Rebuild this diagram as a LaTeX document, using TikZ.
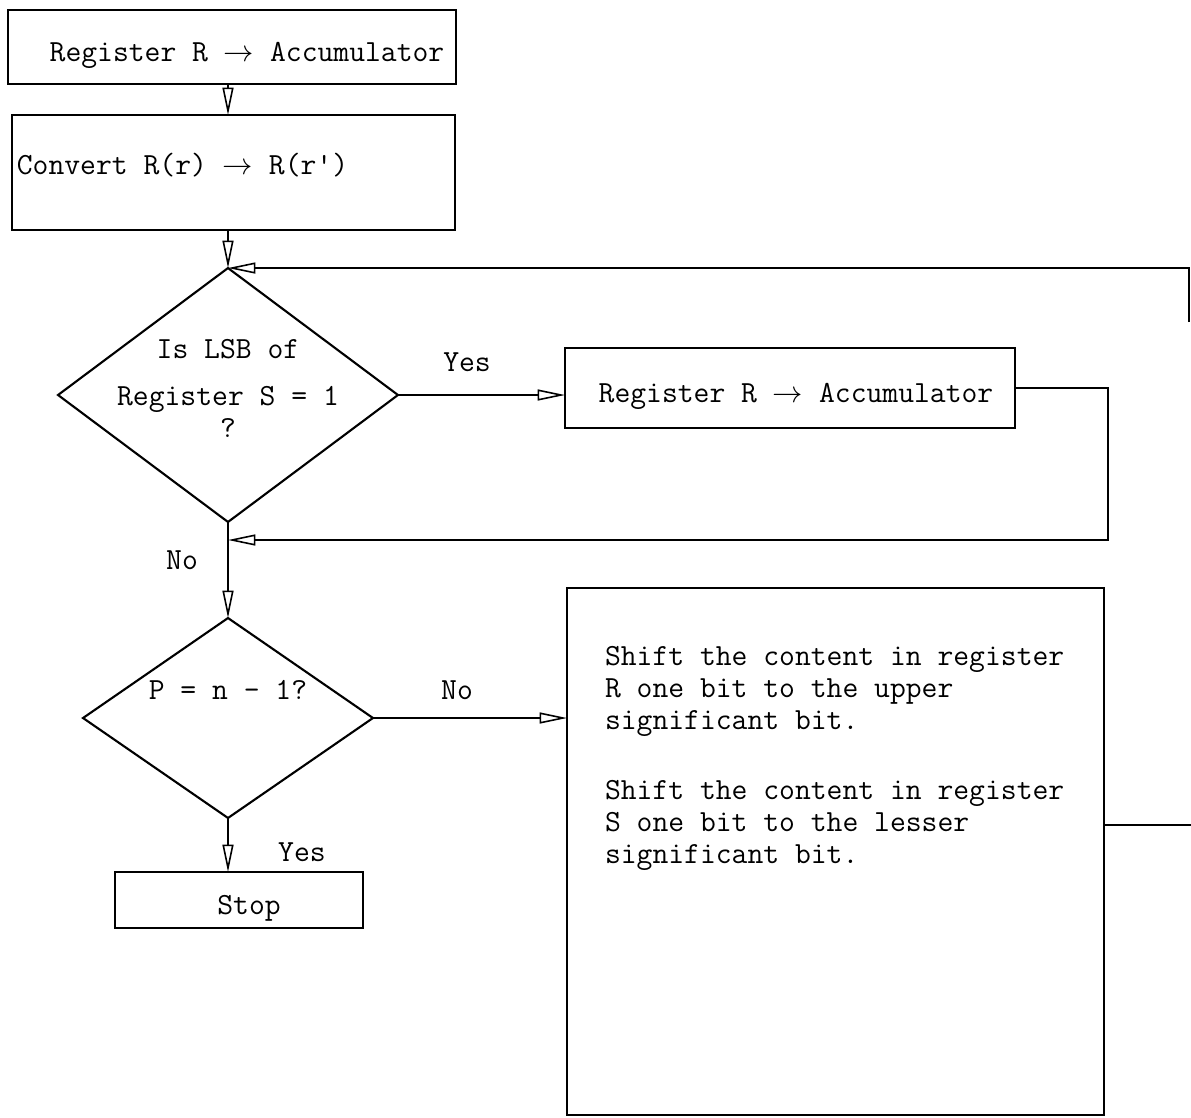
\documentclass[tikz,border=0pt]{standalone}
\usepackage{fontspec}
\usepackage{amsmath}
\usetikzlibrary{arrows.meta,shapes.geometric}

\begin{document}
\begin{tikzpicture}[x=.02cm,y=-.02cm,line width=1.2pt,
		font=\ttfamily\fontsize{17.5}{18.2}\selectfont,
		box/.style={draw,rectangle,inner sep=0,outer sep=0},
		decide/.style={draw,diamond,inner sep=0,outer sep=0},
		flow/.style={-{Triangle[open,length=.55cm,width=.22cm,line width=.9pt]}}]
			\useasboundingbox (0,0) rectangle (1191,1117);
			
			\node[box,minimum width=8.96cm,minimum height=1.48cm] (load) at (232,47) {};
			\node (loadtext) at (247,55) {Register R $\rightarrow$ Accumulator};
			\node[box,minimum width=8.86cm,minimum height=2.3cm] (conv) at (233.5,172.5) {};
			\node[anchor=west] (convtext) at (10,165) {Convert R(r) $\rightarrow$ R(r')};
			
			\node[decide,minimum width=6.8cm,minimum height=5.08cm] (q1) at (228,395) {};
			\node[align=center] (q1text) at (228,388) {Is LSB of\\[.3cm]Register S = 1\\?};
			\node[box,minimum width=9cm,minimum height=1.6cm] (acc) at (790,388) {};
			\node (acctext) at (796,396) {Register R $\rightarrow$ Accumulator};
			
			\node[decide,minimum width=5.8cm,minimum height=4cm] (q2) at (228,718) {};
			\node (q2text) at (228,690) {P = n - 1?};
			\node[box,minimum width=4.96cm,minimum height=1.12cm] (stop) at (239,900) {};
			\node (stoptext) at (249,908) {Stop};
			
			\node[box,minimum width=10.74cm,minimum height=10.54cm] (shift) at (835.5,851.5) {};
			\node[anchor=north west,align=left,inner sep=0] (shifttext) at (604,645) {Shift the content in register\\R one bit to the upper\\significant bit.\\[.76cm]Shift the content in register\\S one bit to the lesser\\significant bit.};
			
			\coordinate (back) at (1189,322);
			\coordinate (merge) at (228,540);
			\coordinate (out) at (1191,825);
			
			\draw[flow] (q1.north |- load.south) -- (q1.north |- conv.north);
			\draw[flow] (q1.north |- conv.south) -- (q1.north);
			\draw[flow] (back) |- (q1.north);
			\draw[flow] (q1.east) -- (q1.east -| acc.west); \node (yes1) at (467,362) {Yes};
			\draw[flow] (acc.east) -- ++(93,0) |- (merge);
			\draw[flow] (q1.south) -- (q2.north); \node (no1) at (182,560) {No};
			\draw[flow] (q2.east) -- (q2.east -| shift.west); \node (no2) at (457,690) {No};
			\draw[flow] (q2.south) -- (q2.south |- stop.north); \node (yes2) at (302,852) {Yes};
			\draw (shift.east |- out) -- (out);
\end{tikzpicture}
\end{document}
